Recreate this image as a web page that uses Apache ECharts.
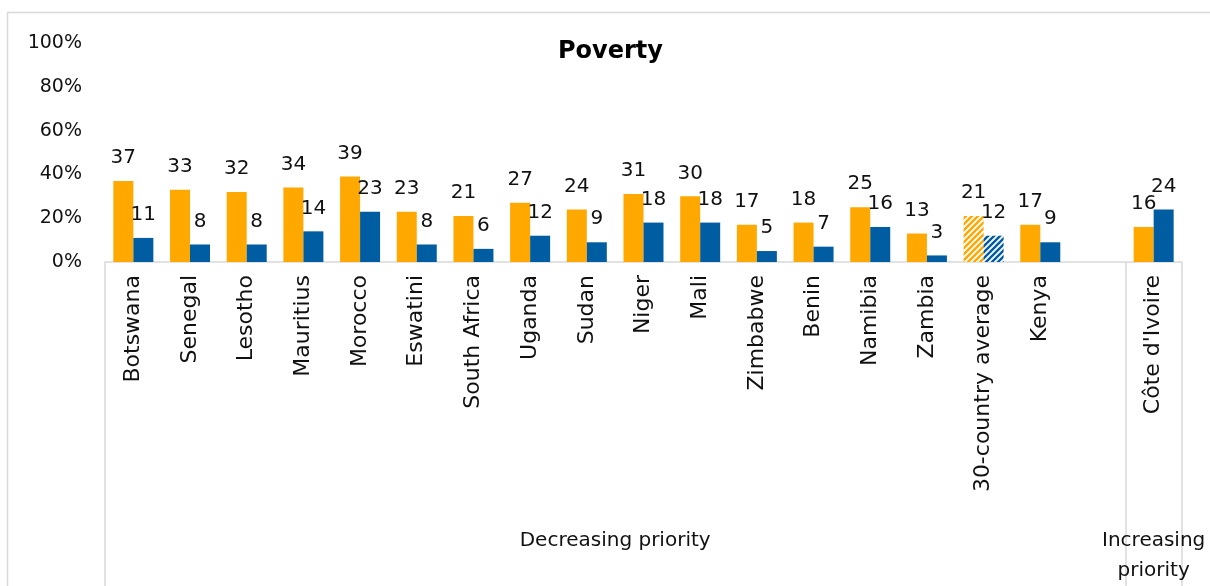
<!DOCTYPE html>
<html>
<head>
<meta charset="utf-8">
<script src="https://cdn.jsdelivr.net/npm/echarts@6/dist/echarts.min.js"></script>
<style>
html,body{margin:0;padding:0;background:#fff;}
#chart{width:1210px;height:586px;}
</style>
</head>
<body>
<div id="chart"></div>
<script>
const categories = ["Botswana","Senegal","Lesotho","Mauritius","Morocco","Eswatini","South Africa","Uganda","Sudan","Niger","Mali","Zimbabwe","Benin","Namibia","Zambia","30-country average","Kenya","","Côte d'Ivoire"];
const orangeValues = [37,33,32,34,39,23,21,27,24,31,30,17,18,25,13,21,17,null,16];
const blueValues = [11,8,8,14,23,8,6,12,9,18,18,5,7,16,3,12,9,null,24];
const averageName = "30-country average";
const groupLabels = ["Decreasing priority","Increasing\npriority"];
const groupCenters = [9, 18.5];
const groupBounds = [0, 18, 19];
const yTicks = [0,20,40,60,80,100];

const ORANGE = '#FFA800';
const BLUE = '#005DA2';
const FONT = 'DejaVu Sans';

function hatch(color){
  const c = document.createElement('canvas');
  c.width = 6; c.height = 6;
  const ctx = c.getContext('2d');
  ctx.fillStyle = '#fff';
  ctx.fillRect(0,0,6,6);
  ctx.strokeStyle = color;
  ctx.lineWidth = 2.4;
  ctx.beginPath();
  ctx.moveTo(-1,7); ctx.lineTo(7,-1);
  ctx.moveTo(-4,4); ctx.lineTo(4,-4);
  ctx.moveTo(2,10); ctx.lineTo(10,2);
  ctx.stroke();
  return c;
}

function buildData(values, color){
  return values.map((v,i)=>{
    if (categories[i] === averageName) {
      return {value: v, itemStyle: {color: {image: hatch(color), repeat: 'repeat'}}};
    }
    return v === null ? '-' : v;
  });
}

const chart = echarts.init(document.getElementById('chart'), null, {renderer:'canvas'});
const labelStyle = {show:true, position:'top', distance:13, fontSize:20, fontFamily:FONT, color:'#111'};
chart.setOption({
  animation:false,
  backgroundColor:'#fff',
  title:{text:'Poverty', left:553, top:35, textStyle:{fontFamily:FONT, fontSize:24, fontWeight:'bold', color:'#000'}},
  graphic:[{type:'rect', shape:{x:7.5,y:12.5,width:1300,height:700}, style:{fill:'none', stroke:'#d9d9d9', lineWidth:1.5}, z:-1}],
  grid:{left:105, right:28, top:43, bottom:324},
  xAxis:[
    {type:'category', data:categories, axisLine:{lineStyle:{color:'#d9d9d9', width:1.5}}, axisTick:{show:false},
     axisLabel:{rotate:90, interval:0, margin:13, fontSize:22, fontFamily:FONT, color:'#111'}},
    {type:'value', min:0, max:19, position:'bottom', axisLine:{show:false}, splitLine:{show:false},
     axisTick:{show:true, customValues:groupBounds, length:330, lineStyle:{color:'#d9d9d9', width:1.5}},
     axisLabel:{show:true, customValues:groupCenters, margin:264, fontSize:20, fontFamily:FONT, color:'#111', lineHeight:30,
       formatter:function(v){ const i = groupCenters.indexOf(v); return i>=0 ? groupLabels[i] : ''; }}}
  ],
  yAxis:{type:'value', min:0, max:100, interval:20, axisLine:{show:false}, axisTick:{show:false}, splitLine:{show:false},
    axisLabel:{margin:23, fontSize:19, fontFamily:FONT, color:'#111', formatter:'{value}%'}},
  series:[
    {type:'bar', name:'A', data:buildData(orangeValues, ORANGE), itemStyle:{color:ORANGE}, barWidth:20, barGap:'0%', label:labelStyle},
    {type:'bar', name:'B', data:buildData(blueValues, BLUE), itemStyle:{color:BLUE}, barWidth:20, barGap:'0%', label:labelStyle}
  ]
});
</script>
</body>
</html>
